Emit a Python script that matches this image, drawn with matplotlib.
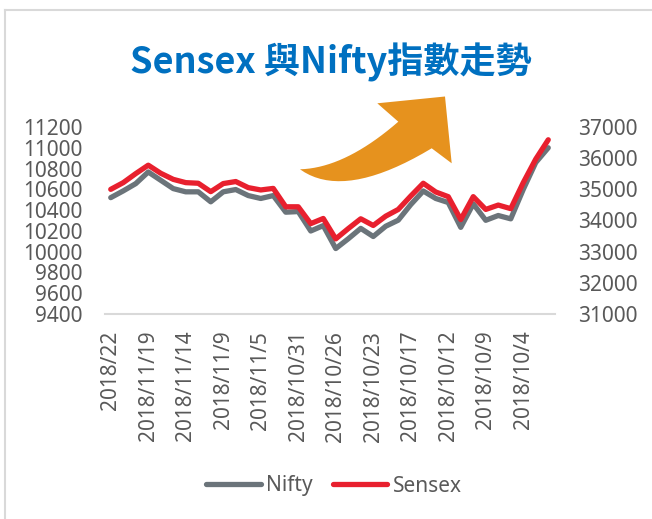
# Sensex and Nifty index trend, dual axis line chart

import numpy as np
import matplotlib.pyplot as plt
from matplotlib.lines import Line2D
from matplotlib.patches import Polygon

plt.rcParams['font.family'] = ['Noto Sans', 'Noto Sans CJK TC', 'DejaVu Sans']

tick_labels = ['2018/22', '2018/11/19', '2018/11/14', '2018/11/9', '2018/11/5', '2018/10/31',
               '2018/10/26', '2018/10/23', '2018/10/17', '2018/10/12', '2018/10/9', '2018/10/4']

nifty = [10520, 10585, 10655, 10767, 10687, 10607, 10576, 10576, 10480, 10576, 10598, 10540,
         10512, 10540, 10380, 10386, 10199, 10251, 10030, 10124, 10224, 10146, 10245, 10303,
         10453, 10584, 10512, 10473, 10234, 10460, 10302, 10348, 10316, 10599, 10858, 11000]

sensex = [35000, 35215, 35505, 35775, 35515, 35320, 35215, 35195, 34925, 35185, 35250, 35055,
          34980, 35030, 34440, 34440, 33900, 34065, 33410, 33740, 34055, 33840, 34140, 34355,
          34785, 35195, 34915, 34765, 34030, 34765, 34355, 34495, 34380, 35215, 35970, 36590]

gray = '#6B747A'
red = '#E8202E'
txt = '#595959'

W, H = 652, 519
fig = plt.figure(figsize=(W / 100, H / 100), dpi=100)

x = np.arange(len(nifty))
ax = fig.add_axes([104.5 / W, 1 - 314 / H, 450 / W, 187 / H])
ax2 = ax.twinx()

ax.plot(x, nifty, color=gray, lw=3.8, solid_capstyle='round', solid_joinstyle='round', label='Nifty')
ax2.plot(x, sensex, color=red, lw=3.8, solid_capstyle='round', solid_joinstyle='round', label='Sensex')

ax.set_xlim(-0.5, len(nifty) - 0.5)
ax.set_ylim(9400, 11200)
ax.set_yticks(np.arange(9400, 11201, 200))
ax2.set_ylim(31000, 37000)
ax2.set_yticks(np.arange(31000, 37001, 1000))

ax.set_xticks(x[::3])
ax.set_xticklabels(tick_labels, rotation=90)

for a in (ax, ax2):
    for s in a.spines.values():
        s.set_visible(False)
    a.tick_params(length=0, labelsize=15, colors=txt)
ax.spines['bottom'].set_visible(True)
ax.spines['bottom'].set_color('#D9D9D9')
ax.spines['bottom'].set_linewidth(1.5)
ax.tick_params(axis='y', pad=16)
ax2.tick_params(axis='y', pad=17)
ax.tick_params(axis='x', pad=12)

fig.text(331 / W, 1 - 62 / H, 'Sensex 與Nifty指數走勢', color='#0070C0', fontsize=26,
         fontweight='semibold', ha='center', va='center', family=['Noto Sans CJK TC'])


# curved orange arrow (figure pixel coordinates)
def qcurve(p0, c, p1, n=20):
    t = np.linspace(0, 1, n)[:, None]
    return (1 - t) ** 2 * np.array(p0) + 2 * (1 - t) * t * np.array(c) + t ** 2 * np.array(p1)


lower = qcurve((300, 169.3), (344, 201), (431.7, 148.3))
upper = qcurve((398.3, 121.7), (345, 168), (300, 169.3))
head = np.array([(451.7, 163.3), (445, 96.5), (377.3, 103.3)])
outline = np.vstack([lower, head, upper])
pts = [(px / W, 1 - py / H) for px, py in outline]
fig.patches.append(Polygon(pts, closed=True, facecolor='#E6921E', edgecolor='none',
                           transform=fig.transFigure))

# chart frame (left and top edges)
fig.add_artist(Line2D([5 / W, 5 / W], [0, 1 - 10 / H], color='#D9D9D9', lw=1.5))
fig.add_artist(Line2D([5 / W, 1], [1 - 10 / H, 1 - 10 / H], color='#D9D9D9', lw=1.5))

h1, l1 = ax.get_legend_handles_labels()
h2, l2 = ax2.get_legend_handles_labels()
fig.legend(h1 + h2, l1 + l2, loc='center', bbox_to_anchor=(334 / W, 1 - 486 / H), ncol=2,
           frameon=False, fontsize=15, labelcolor=txt, handlelength=2.6, handletextpad=0.25,
           columnspacing=1.0)

fig.savefig('out.png', dpi=100)
